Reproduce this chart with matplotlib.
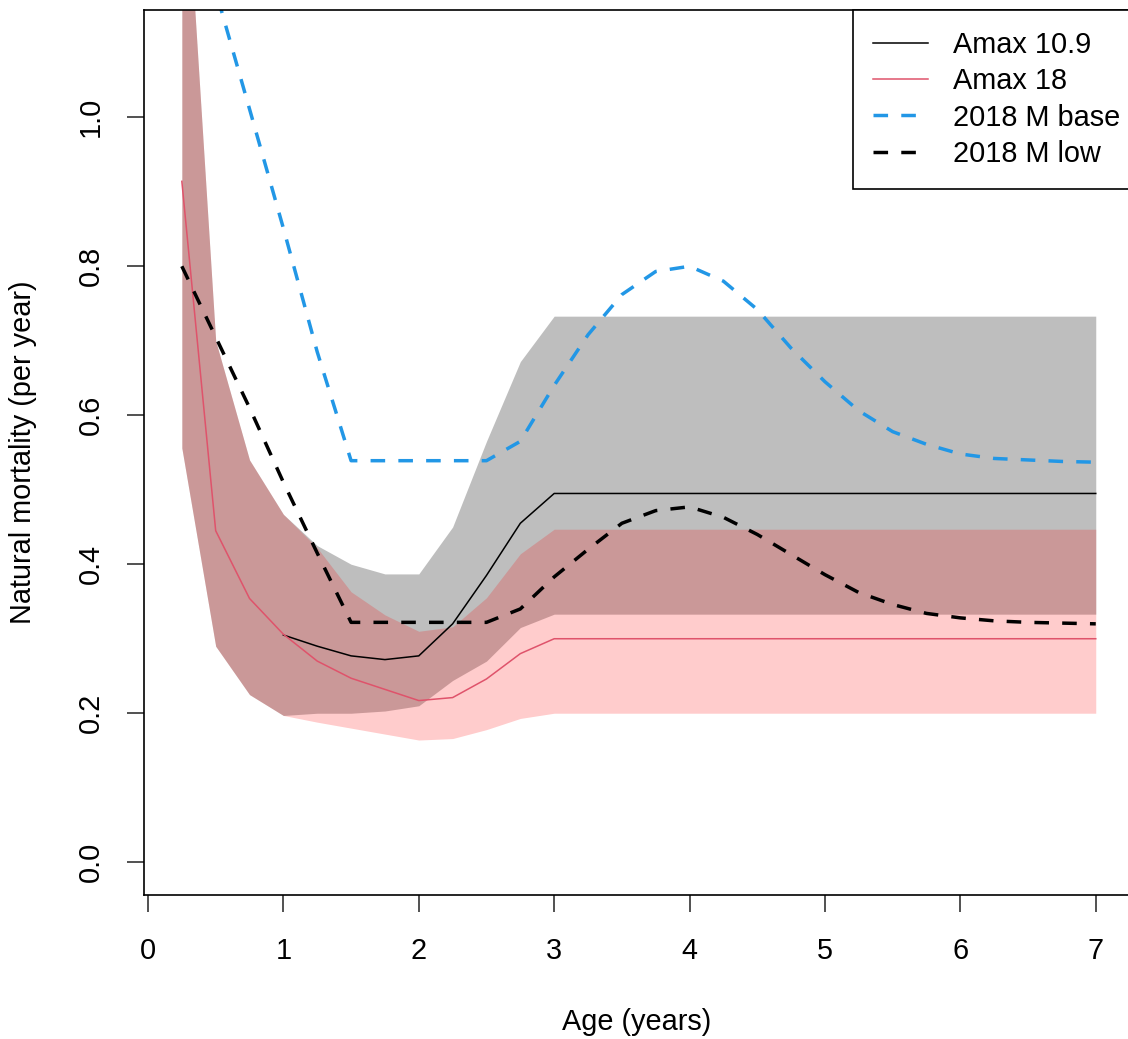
import matplotlib
matplotlib.use('Agg')
import matplotlib.pyplot as plt
import numpy as np

plt.rcParams['font.family'] = ['Liberation Sans', 'DejaVu Sans']

# ages in quarter-year steps
ages = np.arange(1, 29) * 0.25

# Amax 10.9 (black line starts at age 1)
amax109 = [np.nan, np.nan, np.nan, 0.305, 0.29, 0.277, 0.272, 0.277, 0.32, 0.385,
           0.455, 0.495] + [0.495] * 16
amax109_lo = [0.556, 0.29, 0.225, 0.197, 0.20, 0.20, 0.203, 0.21, 0.244, 0.27,
              0.315, 0.333] + [0.333] * 16
amax109_hi = [1.42, 0.70, 0.54, 0.467, 0.425, 0.40, 0.387, 0.387, 0.45, 0.565,
              0.672, 0.733] + [0.733] * 16

# Amax 18
amax18 = [0.914, 0.445, 0.354, 0.306, 0.27, 0.247, 0.232, 0.217, 0.221, 0.246,
          0.28, 0.30] + [0.30] * 16
amax18_lo = [0.556, 0.29, 0.225, 0.197, 0.188, 0.18, 0.172, 0.164, 0.166, 0.178,
             0.193, 0.20] + [0.20] * 16
amax18_hi = [1.42, 0.70, 0.54, 0.467, 0.422, 0.363, 0.332, 0.31, 0.316, 0.355,
             0.414, 0.447] + [0.447] * 16

# 2018 assessment M vectors
m_base = [1.33, 1.17, 1.011, 0.851, 0.685, 0.539, 0.539, 0.539, 0.539, 0.539,
          0.565, 0.64, 0.708, 0.762, 0.793, 0.80, 0.78, 0.742, 0.69, 0.645,
          0.606, 0.578, 0.561, 0.548, 0.542, 0.54, 0.538, 0.537]
m_low = [0.80, 0.705, 0.61, 0.51, 0.415, 0.322, 0.322, 0.322, 0.322, 0.322,
         0.34, 0.383, 0.42, 0.455, 0.472, 0.477, 0.463, 0.44, 0.413, 0.386,
         0.362, 0.346, 0.334, 0.328, 0.324, 0.322, 0.321, 0.32]

W, H = 1128, 1039
FS = 20.8
fig = plt.figure(figsize=(W / 100, H / 100), dpi=100)
ax = fig.add_axes([144 / W, (H - 895) / H, (1130 - 144) / W, (895 - 10) / H])

ax.fill_between(ages, amax109_lo, amax109_hi, color='#BEBEBE', lw=0)
ax.fill_between(ages, amax18_lo, amax18_hi, color='red', alpha=0.2, lw=0)

ax.plot(ages, amax109, color='black', lw=1.1, label='Amax 10.9')
ax.plot(ages, amax18, color='#DF536B', lw=1.1, label='Amax 18')
ax.plot(ages, m_base, color='#2297E6', lw=2.5, dashes=(4.2, 3.8), label='2018 M base')
ax.plot(ages, m_low, color='black', lw=2.5, dashes=(4.2, 3.8), label='2018 M low')

ax.set_xlim(-0.0295, 7.253)
ax.set_ylim(-0.044, 1.144)
ax.set_xticks(range(8))
ax.set_yticks([0.0, 0.2, 0.4, 0.6, 0.8, 1.0])
ax.set_yticklabels(['0.0', '0.2', '0.4', '0.6', '0.8', '1.0'], rotation=90, va='center')
ax.tick_params(axis='both', length=12, width=1.1, labelsize=FS, color='#222222')
ax.tick_params(axis='x', pad=18)
ax.tick_params(axis='y', pad=16)
for s in ax.spines.values():
    s.set_linewidth(1.2)

fig.text(637 / W, 1 - 1022 / H, 'Age (years)', ha='center', va='center', fontsize=FS)
fig.text(23 / W, 1 - 452 / H, 'Natural mortality (per year)', ha='center', va='center',
         rotation=90, fontsize=FS)

leg = ax.legend(loc='upper right', bbox_to_anchor=(1.011, 1), borderaxespad=0,
                fontsize=FS, handlelength=1.9, handletextpad=0.85, labelspacing=0.29,
                borderpad=0.72, fancybox=False, framealpha=1, edgecolor='black')
leg.get_frame().set_linewidth(1.2)

fig.savefig('out.png', dpi=100)
